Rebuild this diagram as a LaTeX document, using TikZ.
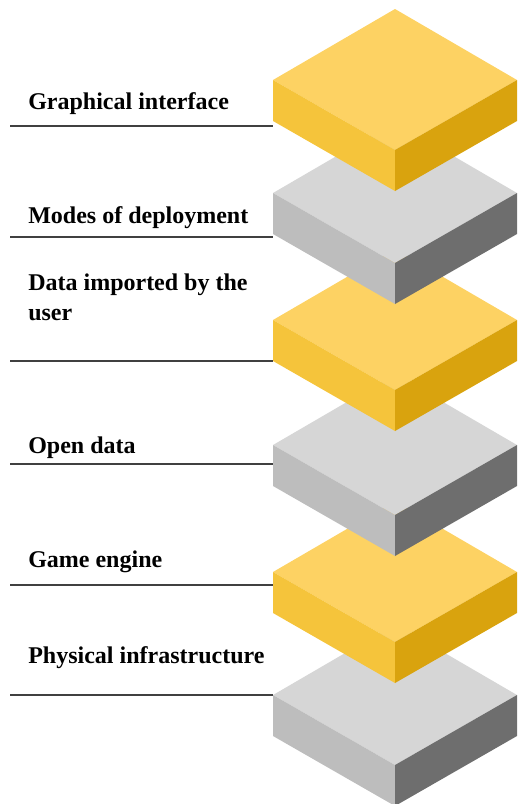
\documentclass[tikz,border=0pt]{standalone}
\usepackage{fontspec}
\setmainfont{Liberation Serif}
\usetikzlibrary{positioning}

\definecolor{ytop}{HTML}{FDD263}
\definecolor{yleft}{HTML}{F5C43B}
\definecolor{yright}{HTML}{D9A30E}
\definecolor{gtop}{HTML}{D6D6D6}
\definecolor{gleft}{HTML}{BDBDBD}
\definecolor{gright}{HTML}{6E6E6E}

\tikzset{
  lbl/.style={anchor=base west,inner sep=0pt,font=\fontsize{18}{22.5}\selectfont\bfseries,align=left},
  rule/.style={draw=black!75,line width=1pt}
}

\begin{document}
\begin{tikzpicture}[x=0.75pt,y=-0.75pt]
    \useasboundingbox (0,0) rectangle (518,804);
    % labels
    \node[lbl] (l1) at (28,109) {Graphical interface};
    \node[lbl] (l2) at (28,223) {Modes of deployment};
    \node[lbl] (l3) at (28,320) {Data imported by the\\user};
    \node[lbl] (l4) at (28,453) {Open data};
    \node[lbl] (l5) at (28,567) {Game engine};
    \node[lbl] (l6) at (28,663) {Physical infrastructure};
    % rules under the labels
    \foreach \i/\y in {1/126,2/237,3/361,4/464,5/585,6/695} {
      \coordinate (s\i) at (10,\y);
      \coordinate (e\i) at (273,\y);
      \path[rule] (s\i) -- (e\i);
    }
    % slabs, bottom one first
    \foreach \i/\y/\c in {6/695/g,5/572/y,4/445/g,3/320/y,2/193/g,1/80/y} {
      \coordinate (b\i) at (273,\y);
      \fill[\c top] (b\i) -- (395,\y-71) -- (517,\y) -- (395,\y+70) -- cycle;
      \fill[\c left] (b\i) -- (395,\y+70) -- (395,\y+111) -- (273,\y+41) -- cycle;
      \fill[\c right] (517,\y) -- (395,\y+70) -- (395,\y+111) -- (517,\y+41) -- cycle;
    }
  \end{tikzpicture}
\end{document}
